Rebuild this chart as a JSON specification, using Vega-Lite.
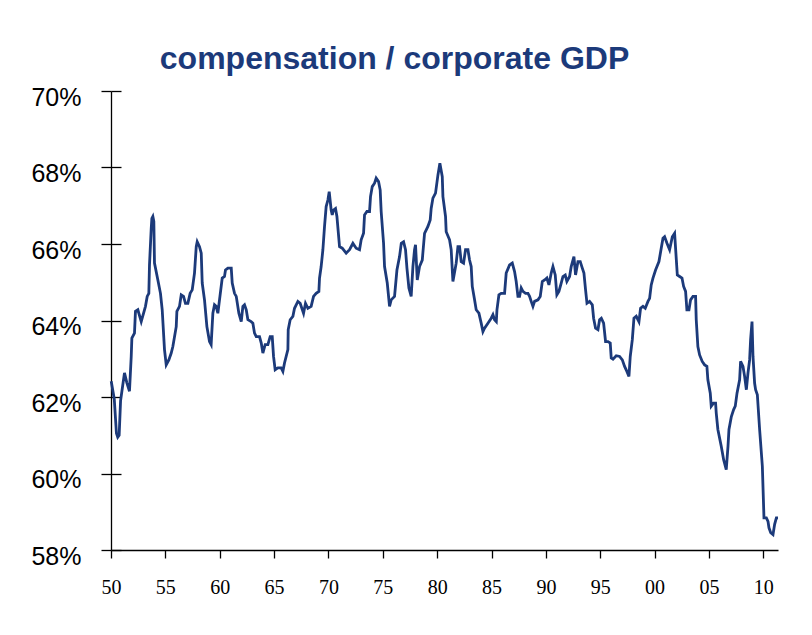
{
  "$schema": "https://vega.github.io/schema/vega-lite/v6.json",
  "width": 667,
  "height": 459,
  "autosize": "none",
  "padding": {"left": 111, "top": 91, "right": 34, "bottom": 85},
  "background": "white",
  "config": {"view": {"stroke": null}},
  "title": {
    "text": "compensation / corporate GDP",
    "font": "Liberation Sans",
    "fontSize": 32,
    "fontWeight": "bold",
    "color": "#1c3a7a",
    "anchor": "middle",
    "frame": "group",
    "dx": -50,
    "offset": 9
  },
  "data": {
    "values": [
      {"year": 1950.02, "share": 62.41}, {"year": 1950.3, "share": 61.95}, {"year": 1950.5, "share": 61.05}, {"year": 1950.62, "share": 60.95}, {"year": 1950.75, "share": 61.0}, {"year": 1950.88, "share": 61.9},
      {"year": 1951.24, "share": 62.63}, {"year": 1951.46, "share": 62.37}, {"year": 1951.7, "share": 62.15}, {"year": 1951.86, "share": 63.06}, {"year": 1951.92, "share": 63.54},
      {"year": 1952.16, "share": 63.67}, {"year": 1952.25, "share": 64.24}, {"year": 1952.47, "share": 64.28}, {"year": 1952.78, "share": 63.97},
      {"year": 1953.17, "share": 64.37}, {"year": 1953.33, "share": 64.63}, {"year": 1953.48, "share": 64.71}, {"year": 1953.54, "share": 65.45}, {"year": 1953.7, "share": 66.41}, {"year": 1953.76, "share": 66.67}, {"year": 1953.85, "share": 66.72}, {"year": 1953.94, "share": 66.59},
      {"year": 1954.0, "share": 65.5}, {"year": 1954.31, "share": 65.06}, {"year": 1954.55, "share": 64.71}, {"year": 1954.71, "share": 64.28}, {"year": 1954.92, "share": 63.24},
      {"year": 1955.08, "share": 62.84}, {"year": 1955.32, "share": 62.97}, {"year": 1955.54, "share": 63.15}, {"year": 1955.69, "share": 63.32},
      {"year": 1956.0, "share": 63.84}, {"year": 1956.06, "share": 64.24}, {"year": 1956.3, "share": 64.37}, {"year": 1956.46, "share": 64.67}, {"year": 1956.67, "share": 64.63}, {"year": 1956.85, "share": 64.45},
      {"year": 1957.07, "share": 64.45}, {"year": 1957.28, "share": 64.71}, {"year": 1957.47, "share": 64.8}, {"year": 1957.68, "share": 65.24}, {"year": 1957.84, "share": 65.93}, {"year": 1957.93, "share": 66.06},
      {"year": 1958.14, "share": 65.93}, {"year": 1958.3, "share": 65.76}, {"year": 1958.39, "share": 64.98}, {"year": 1958.6, "share": 64.54}, {"year": 1958.82, "share": 63.84},
      {"year": 1959.06, "share": 63.45}, {"year": 1959.21, "share": 63.37}, {"year": 1959.37, "share": 64.19}, {"year": 1959.52, "share": 64.41}, {"year": 1959.67, "share": 64.37}, {"year": 1959.83, "share": 64.19}, {"year": 1959.98, "share": 64.54},
      {"year": 1960.23, "share": 65.11}, {"year": 1960.44, "share": 65.15}, {"year": 1960.53, "share": 65.32}, {"year": 1960.75, "share": 65.37},
      {"year": 1961.06, "share": 65.37}, {"year": 1961.15, "share": 64.98}, {"year": 1961.36, "share": 64.71}, {"year": 1961.52, "share": 64.63}, {"year": 1961.76, "share": 64.19}, {"year": 1961.98, "share": 63.97},
      {"year": 1962.13, "share": 64.37}, {"year": 1962.28, "share": 64.41}, {"year": 1962.44, "share": 64.28}, {"year": 1962.59, "share": 64.02}, {"year": 1962.89, "share": 63.97},
      {"year": 1963.05, "share": 63.93}, {"year": 1963.2, "share": 63.67}, {"year": 1963.36, "share": 63.58}, {"year": 1963.66, "share": 63.58}, {"year": 1963.82, "share": 63.41}, {"year": 1963.97, "share": 63.15},
      {"year": 1964.18, "share": 63.37}, {"year": 1964.43, "share": 63.37}, {"year": 1964.64, "share": 63.58}, {"year": 1964.83, "share": 63.58}, {"year": 1964.95, "share": 63.06},
      {"year": 1965.1, "share": 62.71}, {"year": 1965.35, "share": 62.76}, {"year": 1965.65, "share": 62.76}, {"year": 1965.81, "share": 62.67}, {"year": 1965.96, "share": 62.89},
      {"year": 1966.27, "share": 63.24}, {"year": 1966.3, "share": 63.76}, {"year": 1966.48, "share": 64.02}, {"year": 1966.73, "share": 64.11}, {"year": 1966.88, "share": 64.32},
      {"year": 1967.19, "share": 64.5}, {"year": 1967.4, "share": 64.45}, {"year": 1967.71, "share": 64.19}, {"year": 1967.89, "share": 64.45},
      {"year": 1968.11, "share": 64.32}, {"year": 1968.41, "share": 64.37}, {"year": 1968.63, "share": 64.63}, {"year": 1968.87, "share": 64.71},
      {"year": 1969.12, "share": 64.76}, {"year": 1969.18, "share": 65.11}, {"year": 1969.33, "share": 65.41}, {"year": 1969.49, "share": 65.85}, {"year": 1969.64, "share": 66.46}, {"year": 1969.79, "share": 66.98}, {"year": 1969.95, "share": 67.15},
      {"year": 1970.07, "share": 67.37}, {"year": 1970.25, "share": 66.89}, {"year": 1970.35, "share": 66.76}, {"year": 1970.47, "share": 66.89}, {"year": 1970.65, "share": 66.93}, {"year": 1970.78, "share": 66.72},
      {"year": 1971.02, "share": 65.93}, {"year": 1971.27, "share": 65.89}, {"year": 1971.63, "share": 65.76}, {"year": 1971.94, "share": 65.85},
      {"year": 1972.25, "share": 66.02}, {"year": 1972.55, "share": 65.89}, {"year": 1972.86, "share": 65.85},
      {"year": 1973.01, "share": 66.11}, {"year": 1973.23, "share": 66.28}, {"year": 1973.32, "share": 66.76}, {"year": 1973.54, "share": 66.85}, {"year": 1973.78, "share": 66.85}, {"year": 1973.87, "share": 67.24},
      {"year": 1974.03, "share": 67.5}, {"year": 1974.24, "share": 67.59}, {"year": 1974.39, "share": 67.72}, {"year": 1974.61, "share": 67.63}, {"year": 1974.76, "share": 67.41}, {"year": 1974.85, "share": 66.85},
      {"year": 1975.07, "share": 66.02}, {"year": 1975.16, "share": 65.41}, {"year": 1975.41, "share": 64.98}, {"year": 1975.62, "share": 64.37}, {"year": 1975.77, "share": 64.54},
      {"year": 1976.08, "share": 64.63}, {"year": 1976.3, "share": 65.32}, {"year": 1976.54, "share": 65.67}, {"year": 1976.7, "share": 66.02}, {"year": 1976.91, "share": 66.06},
      {"year": 1977.09, "share": 65.85}, {"year": 1977.22, "share": 65.37}, {"year": 1977.4, "share": 64.85}, {"year": 1977.61, "share": 64.63}, {"year": 1977.77, "share": 65.41}, {"year": 1977.92, "share": 65.85},
      {"year": 1978.01, "share": 65.98}, {"year": 1978.17, "share": 65.06}, {"year": 1978.38, "share": 65.41}, {"year": 1978.63, "share": 65.58}, {"year": 1978.84, "share": 66.28},
      {"year": 1979.15, "share": 66.46}, {"year": 1979.36, "share": 66.63}, {"year": 1979.45, "share": 66.93}, {"year": 1979.61, "share": 67.2}, {"year": 1979.85, "share": 67.33},
      {"year": 1980.07, "share": 67.8}, {"year": 1980.25, "share": 68.11}, {"year": 1980.47, "share": 67.76}, {"year": 1980.53, "share": 67.24}, {"year": 1980.77, "share": 66.72}, {"year": 1980.83, "share": 66.32},
      {"year": 1981.14, "share": 66.11}, {"year": 1981.29, "share": 65.85}, {"year": 1981.45, "share": 65.02}, {"year": 1981.75, "share": 65.5}, {"year": 1981.91, "share": 65.93},
      {"year": 1982.06, "share": 65.93}, {"year": 1982.21, "share": 65.54}, {"year": 1982.43, "share": 65.5}, {"year": 1982.61, "share": 65.85}, {"year": 1982.83, "share": 65.85}, {"year": 1982.98, "share": 65.58},
      {"year": 1983.13, "share": 65.41}, {"year": 1983.23, "share": 64.89}, {"year": 1983.44, "share": 64.54}, {"year": 1983.59, "share": 64.28}, {"year": 1983.84, "share": 64.19},
      {"year": 1984.05, "share": 63.93}, {"year": 1984.21, "share": 63.71}, {"year": 1984.36, "share": 63.8}, {"year": 1984.67, "share": 63.93}, {"year": 1984.97, "share": 64.06},
      {"year": 1985.13, "share": 64.15}, {"year": 1985.28, "share": 64.02}, {"year": 1985.44, "share": 63.97}, {"year": 1985.5, "share": 64.28}, {"year": 1985.68, "share": 64.67}, {"year": 1985.89, "share": 64.71},
      {"year": 1986.2, "share": 64.71}, {"year": 1986.35, "share": 65.24}, {"year": 1986.66, "share": 65.45}, {"year": 1986.91, "share": 65.5},
      {"year": 1987.12, "share": 65.28}, {"year": 1987.27, "share": 65.02}, {"year": 1987.43, "share": 64.63}, {"year": 1987.58, "share": 64.63}, {"year": 1987.73, "share": 64.85}, {"year": 1987.89, "share": 64.76},
      {"year": 1988.13, "share": 64.71}, {"year": 1988.35, "share": 64.71}, {"year": 1988.5, "share": 64.63}, {"year": 1988.65, "share": 64.5}, {"year": 1988.81, "share": 64.37}, {"year": 1988.96, "share": 64.5},
      {"year": 1989.27, "share": 64.54}, {"year": 1989.48, "share": 64.63}, {"year": 1989.67, "share": 65.02}, {"year": 1989.88, "share": 65.06},
      {"year": 1990.09, "share": 65.11}, {"year": 1990.28, "share": 64.93}, {"year": 1990.49, "share": 65.24}, {"year": 1990.65, "share": 65.41}, {"year": 1990.86, "share": 65.19},
      {"year": 1991.01, "share": 64.67}, {"year": 1991.2, "share": 64.76}, {"year": 1991.41, "share": 64.98}, {"year": 1991.57, "share": 65.15}, {"year": 1991.78, "share": 65.19}, {"year": 1991.93, "share": 65.02},
      {"year": 1992.18, "share": 65.15}, {"year": 1992.33, "share": 65.41}, {"year": 1992.49, "share": 65.58}, {"year": 1992.58, "share": 65.67}, {"year": 1992.73, "share": 65.19}, {"year": 1992.95, "share": 65.54},
      {"year": 1993.16, "share": 65.54}, {"year": 1993.35, "share": 65.37}, {"year": 1993.5, "share": 65.24}, {"year": 1993.65, "share": 64.8}, {"year": 1993.78, "share": 64.45},
      {"year": 1994.02, "share": 64.5}, {"year": 1994.27, "share": 64.41}, {"year": 1994.39, "share": 64.06}, {"year": 1994.57, "share": 63.8}, {"year": 1994.79, "share": 63.76}, {"year": 1994.94, "share": 64.02},
      {"year": 1995.1, "share": 64.06}, {"year": 1995.31, "share": 63.93}, {"year": 1995.49, "share": 63.45}, {"year": 1995.71, "share": 63.45}, {"year": 1995.92, "share": 63.41},
      {"year": 1996.01, "share": 63.02}, {"year": 1996.17, "share": 62.99}, {"year": 1996.47, "share": 63.08}, {"year": 1996.78, "share": 63.06},
      {"year": 1997.03, "share": 62.97}, {"year": 1997.24, "share": 62.8}, {"year": 1997.45, "share": 62.67}, {"year": 1997.64, "share": 62.54}, {"year": 1997.76, "share": 63.06}, {"year": 1997.95, "share": 63.5},
      {"year": 1998.1, "share": 64.06}, {"year": 1998.31, "share": 64.11}, {"year": 1998.56, "share": 63.97}, {"year": 1998.71, "share": 64.32}, {"year": 1998.93, "share": 64.37},
      {"year": 1999.14, "share": 64.32}, {"year": 1999.39, "share": 64.5}, {"year": 1999.54, "share": 64.58}, {"year": 1999.69, "share": 64.93}, {"year": 1999.85, "share": 65.11},
      {"year": 2000.09, "share": 65.32}, {"year": 2000.4, "share": 65.54}, {"year": 2000.61, "share": 65.89}, {"year": 2000.77, "share": 66.15}, {"year": 2000.92, "share": 66.19},
      {"year": 2001.14, "share": 66.02}, {"year": 2001.38, "share": 65.85}, {"year": 2001.63, "share": 66.19}, {"year": 2001.84, "share": 66.28},
      {"year": 2002.0, "share": 65.58}, {"year": 2002.09, "share": 65.19}, {"year": 2002.3, "share": 65.15}, {"year": 2002.52, "share": 65.11}, {"year": 2002.67, "share": 64.89}, {"year": 2002.85, "share": 64.76}, {"year": 2002.97, "share": 64.28},
      {"year": 2003.16, "share": 64.28}, {"year": 2003.31, "share": 64.54}, {"year": 2003.53, "share": 64.63}, {"year": 2003.77, "share": 64.63}, {"year": 2003.83, "share": 64.02}, {"year": 2003.98, "share": 63.32},
      {"year": 2004.14, "share": 63.1}, {"year": 2004.38, "share": 62.93}, {"year": 2004.6, "share": 62.84}, {"year": 2004.81, "share": 62.8}, {"year": 2004.9, "share": 62.45},
      {"year": 2005.12, "share": 62.1}, {"year": 2005.21, "share": 61.76}, {"year": 2005.42, "share": 61.84}, {"year": 2005.61, "share": 61.84}, {"year": 2005.67, "share": 61.58}, {"year": 2005.82, "share": 61.15},
      {"year": 2006.13, "share": 60.71}, {"year": 2006.35, "share": 60.36}, {"year": 2006.59, "share": 60.1}, {"year": 2006.75, "share": 60.71}, {"year": 2006.84, "share": 61.15},
      {"year": 2007.06, "share": 61.49}, {"year": 2007.27, "share": 61.67}, {"year": 2007.42, "share": 61.76}, {"year": 2007.58, "share": 62.1}, {"year": 2007.82, "share": 62.45}, {"year": 2007.91, "share": 62.93},
      {"year": 2008.13, "share": 62.8}, {"year": 2008.28, "share": 62.54}, {"year": 2008.44, "share": 62.19}, {"year": 2008.59, "share": 62.63}, {"year": 2008.74, "share": 62.97}, {"year": 2008.83, "share": 63.5}, {"year": 2008.96, "share": 63.97},
      {"year": 2009.05, "share": 63.06}, {"year": 2009.2, "share": 62.36}, {"year": 2009.29, "share": 62.19}, {"year": 2009.45, "share": 62.06}, {"year": 2009.66, "share": 61.15}, {"year": 2009.91, "share": 60.19},
      {"year": 2010.06, "share": 58.84}, {"year": 2010.28, "share": 58.84}, {"year": 2010.43, "share": 58.75}, {"year": 2010.52, "share": 58.58}, {"year": 2010.68, "share": 58.45}, {"year": 2010.89, "share": 58.4},
      {"year": 2011.04, "share": 58.67}, {"year": 2011.2, "share": 58.84}, {"year": 2011.35, "share": 58.84}
    ]
  },
  "layer": [
    {
      "mark": {"type": "line", "color": "#1c3a7a", "strokeWidth": 2.8, "clip": false},
      "encoding": {
        "x": {
          "field": "year", "type": "quantitative",
          "scale": {"domain": [1950, 2011.35], "nice": false, "zero": false},
          "axis": {
            "title": null, "grid": false,
            "values": [1950, 1955, 1960, 1965, 1970, 1975, 1980, 1985, 1990, 1995, 2000, 2005, 2010],
            "labelExpr": "slice(toString(datum.value), 2)",
            "labelFont": "Liberation Serif", "labelFontSize": 20, "labelColor": "black",
            "labelPadding": 19, "labelFlush": false, "labelOverlap": false,
            "domainColor": "black", "domainWidth": 1.6,
            "tickColor": "black", "tickWidth": 1.3, "tickSize": 8
          }
        },
        "y": {
          "field": "share", "type": "quantitative",
          "scale": {"domain": [58, 70], "nice": false, "zero": false},
          "axis": {
            "title": null, "grid": false,
            "values": [58, 60, 62, 64, 66, 68, 70],
            "labelExpr": "datum.value + '%'",
            "labelFont": "Liberation Sans", "labelFontSize": 25, "labelColor": "black",
            "labelPadding": 20, "labelOffset": 6, "labelFlush": false, "labelOverlap": false,
            "domainColor": "black", "domainWidth": 1.3,
            "tickColor": "black", "tickWidth": 1.3, "tickSize": 10
          }
        }
      }
    },
    {
      "mark": {"type": "line", "strokeOpacity": 0},
      "encoding": {
        "x": {"field": "year", "type": "quantitative"},
        "y": {
          "field": "share", "type": "quantitative",
          "axis": {
            "orient": "left", "title": null, "grid": false, "labels": false, "domain": false,
            "values": [58, 60, 62, 64, 66, 68, 70],
            "tickColor": "black", "tickWidth": 1.3, "tickSize": -10
          }
        }
      }
    }
  ],
  "resolve": {"axis": {"y": "independent"}}
}
